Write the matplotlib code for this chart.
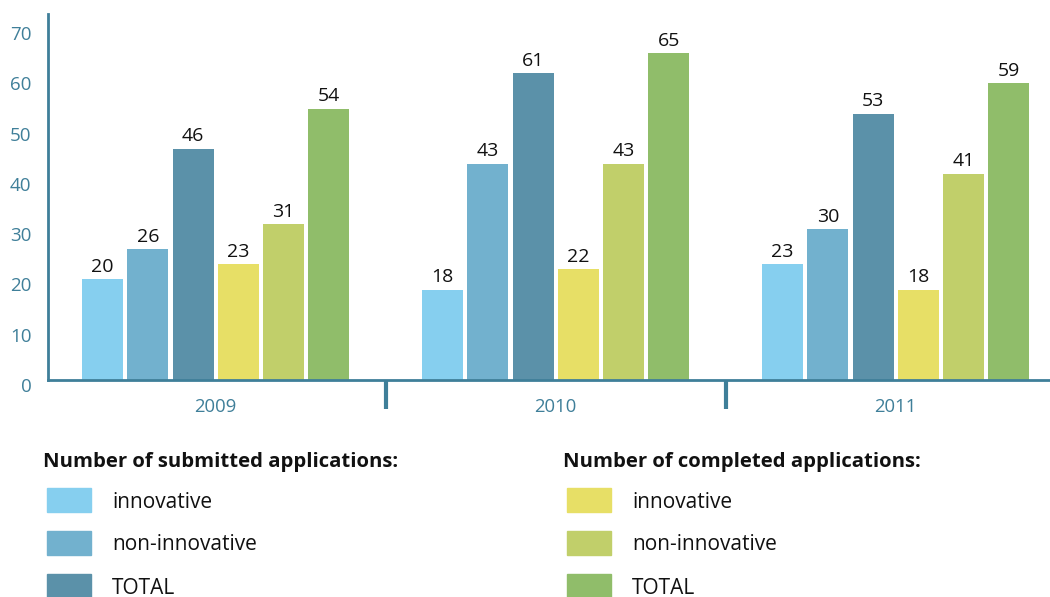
import matplotlib
matplotlib.use("Agg")
import matplotlib.pyplot as plt
import matplotlib.transforms as mtransforms
from matplotlib.patches import Rectangle

years = ["2009", "2010", "2011"]
series_names = ["innovative", "non-innovative", "TOTAL"]
submitted_innovative = [20, 18, 23]
submitted_non_innovative = [26, 43, 30]
submitted_total = [46, 61, 53]
completed_innovative = [23, 22, 18]
completed_non_innovative = [31, 43, 41]
completed_total = [54, 65, 59]
yticks = [0, 10, 20, 30, 40, 50, 60, 70]

sub_colors = ["#86CFEF", "#72B1CE", "#5B91A9"]
com_colors = ["#E7DF66", "#C1CF6A", "#90BD6A"]
axis_color = "#3F7F99"
font = ["Open Sans", "DejaVu Sans"]

series = [submitted_innovative, submitted_non_innovative, submitted_total,
          completed_innovative, completed_non_innovative, completed_total]
colors = sub_colors + com_colors

fig = plt.figure(figsize=(10.5, 5.97), dpi=100)
W, H = 1050, 597
ax = fig.add_axes([48 / W, 1 - 380 / H, (1050 - 48) / W, (380 - 14) / H])

width = 0.1206
pitch = 0.133
for i, (vals, c) in enumerate(zip(series, colors)):
    off = (i - 2.5) * pitch
    xs = [g + off for g in range(len(years))]
    ax.bar(xs, vals, width=width, color=c, zorder=2)
    for x, v in zip(xs, vals):
        ax.annotate(str(v), (x, v), xytext=(0, 2.5), textcoords="offset points",
                    ha="center", va="bottom", fontsize=14, family=font, color="#111111")

ax.set_xlim(-0.493, 2.454)
ax.set_ylim(0, 72.8)
ax.set_yticks(yticks)
ax.set_yticklabels([str(t) for t in yticks], family=font, fontsize=13.5, color=axis_color)
ax.tick_params(axis="y", length=0, pad=12)
offset = mtransforms.ScaledTranslation(0, -5 / 100, fig.dpi_scale_trans)
for lab in ax.get_yticklabels():
    lab.set_transform(lab.get_transform() + offset)

ax.set_xticks(range(len(years)))
ax.set_xticklabels(years, family=font, fontsize=13.3, color=axis_color)
ax.tick_params(axis="x", length=0, pad=13)
ax.set_xticks([0.5, 1.5], minor=True)
ax.tick_params(axis="x", which="minor", length=21, width=3, color=axis_color, direction="out")

for s in ["top", "right"]:
    ax.spines[s].set_visible(False)
for s in ["left", "bottom"]:
    ax.spines[s].set_color(axis_color)
    ax.spines[s].set_linewidth(2)

# Legend
titles = ["Number of submitted applications:", "Number of completed applications:"]
col_x = [43, 563]
for col, (title, cols) in enumerate(zip(titles, [sub_colors, com_colors])):
    x0 = col_x[col]
    fig.text(x0 / W, 1 - 462 / H, title, family=font, fontsize=14.6, fontweight="bold",
             va="center", ha="left", color="#111111")
    for j, (name, c) in enumerate(zip(series_names, cols)):
        yc = 500 + j * 43
        fig.patches.append(Rectangle(((x0 + 4) / W, 1 - (yc + 12) / H), 44 / W, 24 / H,
                                     transform=fig.transFigure, color=c, figure=fig))
        fig.text((x0 + 69) / W, 1 - (yc + 2) / H, name, family=font, fontsize=15,
                 va="center", ha="left", color="#111111")

fig.savefig("out.png", dpi=100)
